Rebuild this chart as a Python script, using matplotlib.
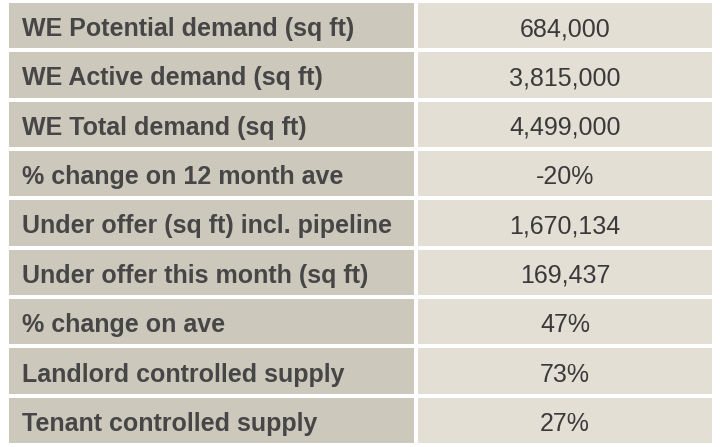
import matplotlib.pyplot as plt
from matplotlib.patches import Rectangle

labels = [
    'WE Potential demand (sq ft)',
    'WE Active demand (sq ft)',
    'WE Total demand (sq ft)',
    '% change on 12 month ave',
    'Under offer (sq ft) incl. pipeline',
    'Under offer this month (sq ft)',
    '% change on ave',
    'Landlord controlled supply',
    'Tenant controlled supply',
]
values = ['684,000', '3,815,000', '4,499,000', '-20%', '1,670,134',
          '169,437', '47%', '73%', '27%']

W, H = 721, 447
fig = plt.figure(figsize=(W / 100, H / 100), dpi=100)
ax = fig.add_axes([0, 0, 1, 1])
ax.set_xlim(0, W)
ax.set_ylim(H, 0)
ax.axis('off')

left_x0, left_x1 = 9, 414
right_x0, right_x1 = 418, 712
top, bottom, gap = 3, 443, 4
n = len(labels)
pitch = (bottom - top + gap) / n
row_h = pitch - gap

for i, (lab, val) in enumerate(zip(labels, values)):
    y = top + i * pitch
    ax.add_patch(Rectangle((left_x0, y), left_x1 - left_x0, row_h,
                           facecolor='#ccc8bc', edgecolor='none'))
    ax.add_patch(Rectangle((right_x0, y), right_x1 - right_x0, row_h,
                           facecolor='#e4dfd5', edgecolor='none'))
    ax.text(left_x0 + 13, y + row_h / 2 + 1, lab, ha='left', va='center_baseline',
            fontsize=18, fontweight='bold', color='#464646',
            family='Liberation Sans')
    ax.text((right_x0 + right_x1) / 2, y + row_h / 2 + 1, val, ha='center',
            va='center_baseline', fontsize=18, fontweight='normal',
            color='#3a3a3a', family='Liberation Sans')

fig.savefig('out.png', dpi=100, facecolor='white')
